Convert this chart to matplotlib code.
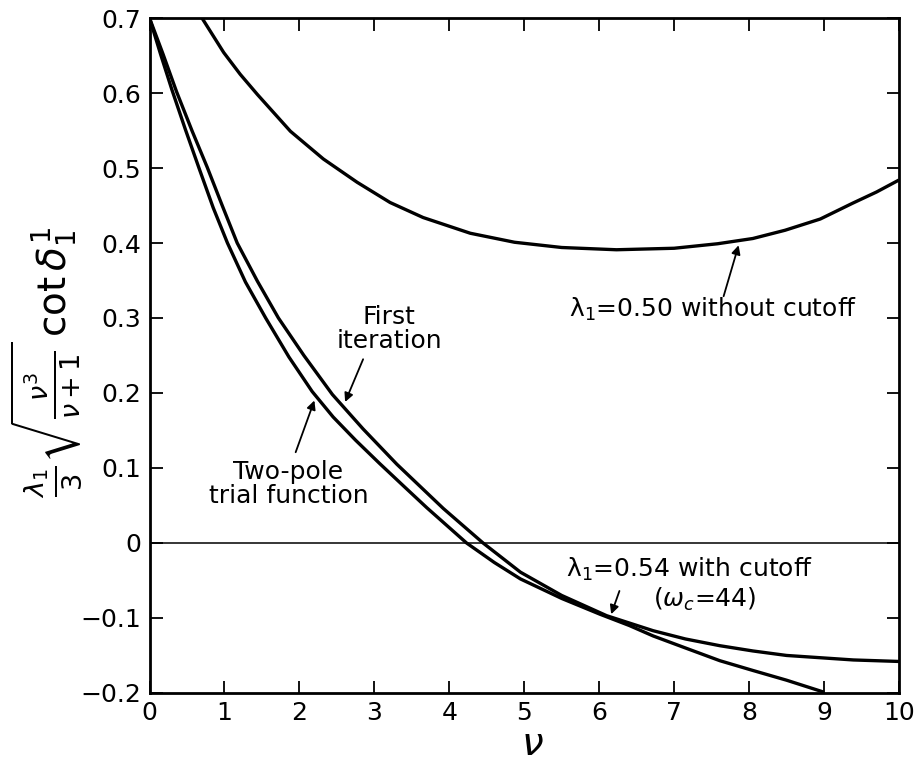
import matplotlib
matplotlib.use("Agg")
import matplotlib.pyplot as plt

# ---- data ----
nu_upper = [0.70, 0.99, 1.21, 1.44, 1.88, 2.32, 2.77, 3.21, 3.65, 4.28, 4.87, 5.50, 6.23,
            7.00, 7.58, 8.05, 8.48, 8.95, 9.38, 9.70, 10.0]
v_upper = [0.700, 0.654, 0.625, 0.598, 0.549, 0.512, 0.481, 0.454, 0.434, 0.413, 0.401, 0.394, 0.391,
           0.393, 0.399, 0.406, 0.417, 0.432, 0.453, 0.468, 0.484]

nu_first = [0.0, 0.18, 0.36, 0.57, 0.77, 0.97, 1.17, 1.44, 1.72, 2.06, 2.44, 2.85, 3.30, 3.92,
            4.45, 4.95, 5.50, 6.10, 6.72, 7.15, 7.61, 8.05, 8.50, 9.39, 10.0]
v_first = [0.700, 0.652, 0.602, 0.549, 0.501, 0.450, 0.400, 0.349, 0.300, 0.250, 0.198, 0.152, 0.105, 0.046,
           0.000, -0.039, -0.070, -0.097, -0.117, -0.128, -0.137, -0.144, -0.150, -0.156, -0.158]

nu_twopole = [0.0, 0.15, 0.30, 0.48, 0.66, 0.85, 1.04, 1.28, 1.55, 1.86, 2.17, 2.45, 2.75, 3.07,
              3.40, 3.70, 4.23, 4.60, 4.95, 5.50, 6.01, 6.40, 6.72, 7.15, 7.61, 8.05, 8.50, 9.00]
v_twopole = [0.700, 0.651, 0.604, 0.551, 0.500, 0.447, 0.400, 0.348, 0.300, 0.248, 0.202, 0.168, 0.137, 0.106,
             0.075, 0.047, 0.000, -0.026, -0.048, -0.074, -0.095, -0.110, -0.124, -0.140, -0.157, -0.170, -0.183, -0.199]

x_ticks = [0, 1, 2, 3, 4, 5, 6, 7, 8, 9, 10]
y_ticks = [-0.2, -0.1, 0, 0.1, 0.2, 0.3, 0.4, 0.5, 0.6, 0.7]
y_tick_labels = ["\u22120.2", "\u22120.1", "0", "0.1", "0.2", "0.3", "0.4", "0.5", "0.6", "0.7"]

plt.rcParams['font.family'] = ['DejaVu Sans']
plt.rcParams['mathtext.fontset'] = 'dejavusans'

fig = plt.figure(figsize=(9.15, 7.64), dpi=100)
ax = fig.add_axes([0.1634, 0.093, 0.8191, 0.8834])

lw = 2.4
for xs, ys in [(nu_upper, v_upper), (nu_first, v_first), (nu_twopole, v_twopole)]:
    ax.plot(xs, ys, color='black', lw=lw, solid_joinstyle='round', solid_capstyle='butt')
ax.axhline(0, color='black', lw=1.1)

ax.set_xlim(0, 10)
ax.set_ylim(-0.2, 0.7)
ax.set_xticks(x_ticks)
ax.set_xticklabels([str(t) for t in x_ticks])
ax.set_yticks(y_ticks)
ax.set_yticklabels(y_tick_labels)
ax.tick_params(direction='in', length=9, width=1.3, top=True, right=True,
               labelsize=18, pad=6)
for s in ax.spines.values():
    s.set_linewidth(2.0)

# x-axis label placed below the tick labels
fig.text(532 / 915, 0.026, r'$\nu$', ha='center', va='center', fontsize=28)
ax.set_ylabel(r'$\frac{\lambda_1}{3}\sqrt{\frac{\nu^3}{\nu+1}}\,\cot\delta_1^1$', fontsize=28)
ax.yaxis.set_label_coords(-0.088, 0.49)

fs = 18
arrow = dict(arrowstyle='-|>', color='black', lw=1.3, mutation_scale=13,
             shrinkA=0, shrinkB=0)

ax.text(3.20, 0.285, 'First\niteration', ha='center', va='center', fontsize=fs, linespacing=1.0)
ax.annotate('', xy=(2.61, 0.188), xytext=(2.85, 0.245), arrowprops=arrow)

ax.text(1.855, 0.079, 'Two-pole\ntrial function', ha='center', va='center', fontsize=fs, linespacing=1.0)
ax.annotate('', xy=(2.20, 0.190), xytext=(1.95, 0.121), arrowprops=arrow)

ax.text(7.20, -0.035, 'λ$_1$=0.54 with cutoff', ha='center', va='center', fontsize=fs)
ax.text(7.41, -0.075, '($\\omega_c$=44)', ha='center', va='center', fontsize=fs)
ax.annotate('', xy=(6.16, -0.095), xytext=(6.27, -0.064), arrowprops=arrow)

ax.text(7.52, 0.312, 'λ$_1$=0.50 without cutoff', ha='center', va='center', fontsize=fs)
ax.annotate('', xy=(7.86, 0.397), xytext=(7.66, 0.329), arrowprops=arrow)

fig.savefig('out.png', dpi=100)
